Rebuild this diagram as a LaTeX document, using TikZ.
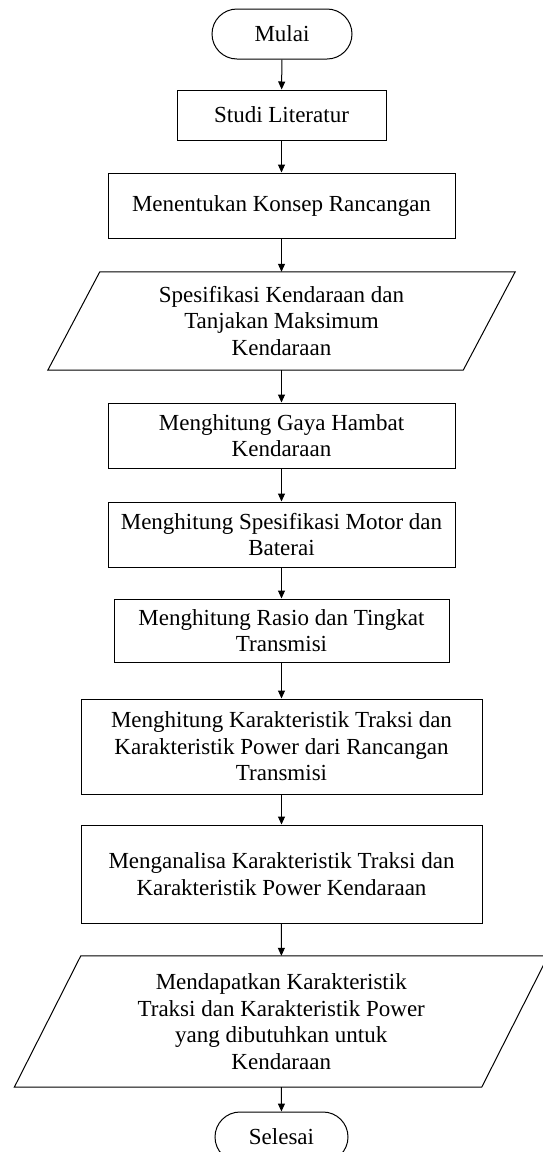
\documentclass[tikz,border=0pt]{standalone}
\usepackage{fontspec}
\setmainfont{Liberation Serif}
\usetikzlibrary{arrows.meta}
\tikzset{
  base/.style={inner sep=0pt, align=center, font=\fontsize{23}{26.5}\selectfont},
  procbox/.style={base, draw, line width=1pt},
  term/.style={base, draw, line width=1pt, rounded corners=25pt, minimum height=50pt},
  iobox/.style={base},
  arr/.style={line width=1pt, -{Triangle[length=8pt,width=7pt]}},
  ioline/.style={line width=1pt}
}
\begin{document}
\begin{tikzpicture}[x=1pt,y=-1pt]
\useasboundingbox (0,0) rectangle (543,1152);
\node[term, minimum width=140pt] (mulai) at (282,34) {Mulai};
\node[procbox, minimum width=209pt, minimum height=50pt] (studi) at (281.5,115) {Studi Literatur};
\node[procbox, minimum width=347pt, minimum height=65pt] (konsep) at (281.5,205.5) {Menentukan Konsep Rancangan};
\node[iobox, minimum width=415pt, minimum height=98pt] (spek) at (281.5,321) {Spesifikasi Kendaraan dan\\Tanjakan Maksimum\\Kendaraan};
\draw[ioline] ([xshift=26pt]spek.north west) -- ([xshift=26pt]spek.north east) -- ([xshift=-26pt]spek.south east) -- ([xshift=-26pt]spek.south west) -- cycle;
\node[procbox, minimum width=347pt, minimum height=65pt] (gaya) at (281.5,435.5) {Menghitung Gaya Hambat\\Kendaraan};
\node[procbox, minimum width=347pt, minimum height=65pt] (motor) at (281.5,534.5) {Menghitung Spesifikasi Motor dan\\Baterai};
\node[procbox, minimum width=335pt, minimum height=63pt] (rasio) at (281.5,630.5) {Menghitung Rasio dan Tingkat\\Transmisi};
\node[procbox, minimum width=401pt, minimum height=95pt] (karak) at (281.5,746.5) {Menghitung Karakteristik Traksi dan\\Karakteristik Power dari Rancangan\\Transmisi};
\node[procbox, minimum width=401pt, minimum height=98pt] (analisa) at (281.5,874) {Menganalisa Karakteristik Traksi dan\\Karakteristik Power Kendaraan};
\node[iobox, minimum width=467pt, minimum height=131pt] (dapat) at (281.25,1021.5) {Mendapatkan Karakteristik\\Traksi dan Karakteristik Power\\yang dibutuhkan untuk\\Kendaraan};
\draw[ioline] ([xshift=33.25pt]dapat.north west) -- ([xshift=33.25pt]dapat.north east) -- ([xshift=-33.25pt]dapat.south east) -- ([xshift=-33.25pt]dapat.south west) -- cycle;
\node[term, minimum width=133pt] (selesai) at (281.5,1137) {Selesai};
\draw[arr] (mulai) -- (studi);
\draw[arr] (studi) -- (konsep);
\draw[arr] (konsep) -- (spek);
\draw[arr] (spek) -- (gaya);
\draw[arr] (gaya) -- (motor);
\draw[arr] (motor) -- (rasio);
\draw[arr] (rasio) -- (karak);
\draw[arr] (karak) -- (analisa);
\draw[arr] (analisa) -- (dapat);
\draw[arr] (dapat) -- (selesai);
\end{tikzpicture}
\end{document}
